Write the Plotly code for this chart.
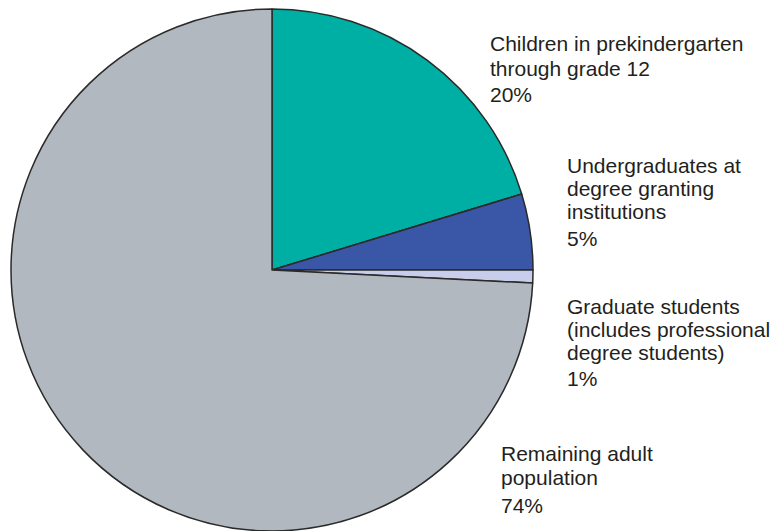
import plotly.graph_objects as go

W, H = 784, 531

categories = [
    "Children in prekindergarten through grade 12",
    "Undergraduates at degree granting institutions",
    "Graduate students (includes professional degree students)",
    "Remaining adult population",
]
values = [20.3, 4.7, 0.8, 74.2]
pct_labels = ["20%", "5%", "1%", "74%"]
label_lines = [
    ["Children in prekindergarten", "through grade 12"],
    ["Undergraduates at", "degree granting", "institutions"],
    ["Graduate students", "(includes professional", "degree students)"],
    ["Remaining adult", "population"],
]
colors = ["#00AFA4", "#3A56A6", "#C8CDEB", "#B2B8C0"]

fig = go.Figure(go.Pie(
    labels=categories,
    values=values,
    sort=False,
    direction="clockwise",
    rotation=0,
    marker=dict(colors=colors, line=dict(color="#2a2a2a", width=1.5)),
    textinfo="none",
    hoverinfo="label+percent",
    showlegend=False,
    domain=dict(x=[11 / W, 533 / W], y=[0, (H - 9) / H]),
))

# label layout: (left x px, first line y px, line step, percent y px)
label_pos = [
    (488, 44, 24, 95),
    (565, 165, 23.5, 238),
    (565, 306, 23, 378),
    (499, 453, 24, 505),
]

annotations = []
font = dict(family="Liberation Sans, Arial, sans-serif", size=21, color="#231F20")
for lines, pct, (px, py, step, ppy) in zip(label_lines, pct_labels, label_pos):
    for i, ln in enumerate(lines):
        annotations.append(dict(
            text=ln, x=px / W, y=1 - (py + i * step) / H, xref="paper", yref="paper",
            xanchor="left", yanchor="middle", showarrow=False, font=font,
        ))
    annotations.append(dict(
        text=pct, x=px / W, y=1 - ppy / H, xref="paper", yref="paper",
        xanchor="left", yanchor="middle", showarrow=False, font=font,
    ))

fig.update_layout(
    width=W, height=H,
    margin=dict(l=0, r=0, t=0, b=0),
    paper_bgcolor="white",
    plot_bgcolor="white",
    annotations=annotations,
)

fig.write_html(
    "out.html",
    config={"displayModeBar": False},
    post_script="document.body.style.margin='0';",
)
